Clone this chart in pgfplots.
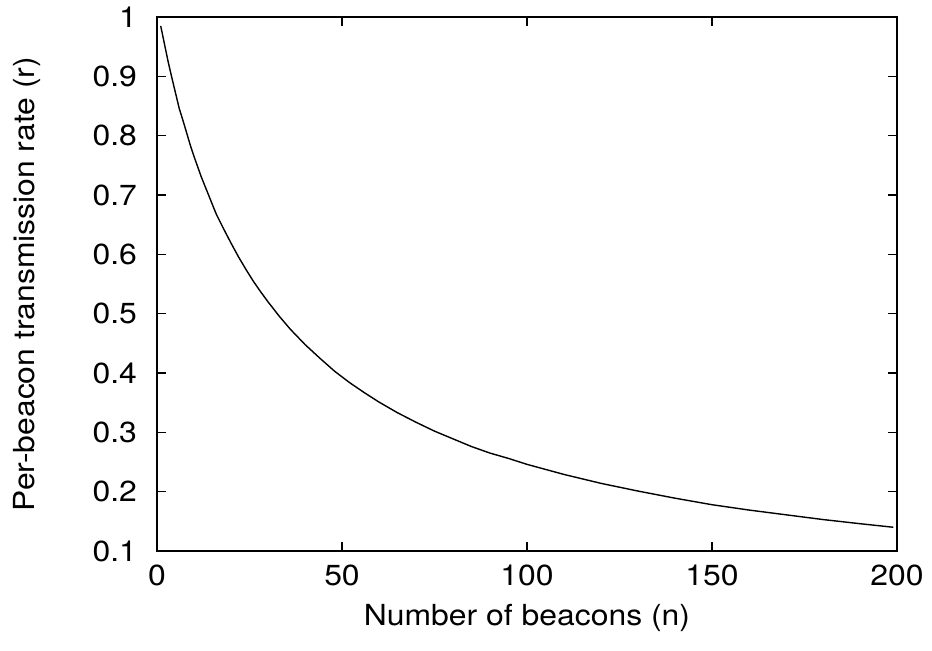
\documentclass[border=0pt]{standalone}
\usepackage{pgfplots}
\pgfplotsset{compat=1.18}
\usepackage{fontspec}
\setmainfont[FakeStretch=1.1]{TeX Gyre Heros}
\begin{document}
\fontsize{14.5}{17}\selectfont
\begin{tikzpicture}
\useasboundingbox (-78.5pt,-50pt) rectangle (387.5pt,275.5pt);
\begin{axis}[
    scale only axis,
    width=370pt, height=267pt,
    xmin=0, xmax=200, ymin=0.1, ymax=1,
    xtick={0,50,100,150,200},
    ytick={0.1,0.2,0.3,0.4,0.5,0.6,0.7,0.8,0.9,1},
    tick align=inside,
    major tick length=4.5pt,
    axis line style={line width=0.9pt},
    every tick/.style={black, line width=0.6pt},
    /pgf/number format/assume math mode=true,
    tick label style={font=\fontsize{14.5}{17}\selectfont},
    label style={font=\fontsize{14.5}{17}\selectfont},
    xticklabel style={yshift=-2pt},
    yticklabel style={xshift=-5pt},
    xlabel={Number of beacons (n)},
    ylabel={Per-beacon transmission rate (r)},
    xlabel style={at={(axis description cs:0.5,-0.126)}, anchor=center},
    ylabel style={at={(axis description cs:-0.176,0.5)}, anchor=center, rotate=0},
    ]
    % values
    \addplot[black, line width=0.7pt] coordinates {
        (1,0.985) (2,0.955) (3,0.925) (4,0.898) (5,0.872) (6,0.846)
        (7,0.826) (8,0.805) (9,0.784) (10,0.765) (12,0.730) (14,0.699)
        (16,0.668) (18,0.643) (20,0.619) (22,0.596) (24,0.575) (26,0.555)
        (28,0.537) (30,0.520) (33,0.496) (36,0.474) (40,0.448) (44,0.425)
        (48,0.403) (52,0.384) (56,0.367) (60,0.351) (65,0.333) (70,0.317)
        (75,0.302) (80,0.289) (85,0.276) (90,0.265) (95,0.256) (100,0.246)
        (110,0.229) (120,0.214) (130,0.201) (140,0.189) (150,0.178)
        (160,0.169) (170,0.161) (180,0.153) (190,0.146) (199,0.140)
    };
\end{axis}
\end{tikzpicture}
\end{document}
